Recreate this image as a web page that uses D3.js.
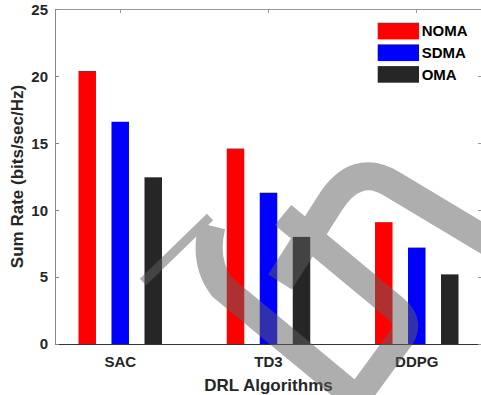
<!DOCTYPE html>
<html>
<head>
<meta charset="utf-8">
<script src="https://cdn.jsdelivr.net/npm/d3@7/dist/d3.min.js"></script>
<style>
  html, body { margin: 0; padding: 0; background: #fff; }
  svg { display: block; font-family: "Liberation Sans", Arial, sans-serif; }
</style>
</head>
<body>
<div id="chart"></div>
<script>
// data
const categories = ['SAC', 'TD3', 'DDPG'];
const seriesNames = ['NOMA', 'SDMA', 'OMA'];
const noma = [20.4, 14.6, 9.1];
const sdma = [16.6, 11.3, 7.2];
const oma = [12.45, 8.0, 5.2];
const yTicks = [0, 5, 10, 15, 20, 25];
const seriesColors = ['#ff0000', '#0000ff', '#262626'];

const width = 481, height = 395;
const margin = { top: 9.3, right: -1, bottom: 51, left: 55 };
const textColor = '#262626';

const svg = d3.select('#chart').append('svg')
  .attr('width', width)
  .attr('height', height);

const x0 = d3.scalePoint()
  .domain(categories)
  .range([margin.left, width - margin.right])
  .padding(0.44);

const x1 = d3.scaleBand()
  .domain(seriesNames)
  .range([-57.25, 57.25])
  .padding(0.47);

const y = d3.scaleLinear()
  .domain([0, 25])
  .range([height - margin.bottom, margin.top]);

const values = { NOMA: noma, SDMA: sdma, OMA: oma };
const rows = [];
seriesNames.forEach((s, si) => {
  categories.forEach((c, ci) => rows.push({ cat: c, series: s, value: values[s][ci], color: seriesColors[si] }));
});

const x0r = width - margin.right;
const yb = y(0), yt = y(25);

// bars
svg.append('g').selectAll('rect')
  .data(rows)
  .join('rect')
  .attr('x', d => x0(d.cat) + x1(d.series))
  .attr('width', x1.bandwidth())
  .attr('y', d => y(d.value))
  .attr('height', d => yb - y(d.value))
  .attr('fill', d => d.color);

// box lines (matlab style)
const box = svg.append('g').attr('fill', 'none').attr('shape-rendering', 'crispEdges');
box.append('line').attr('x1', margin.left).attr('x2', x0r).attr('y1', yt).attr('y2', yt).attr('stroke', '#999');
box.append('line').attr('x1', margin.left).attr('x2', margin.left).attr('y1', yt).attr('y2', yb).attr('stroke', '#888');
box.append('line').attr('x1', x0r).attr('x2', x0r).attr('y1', yt).attr('y2', yb).attr('stroke', '#999');
box.append('line').attr('x1', margin.left).attr('x2', x0r).attr('y1', yb).attr('y2', yb).attr('stroke', '#333');

// inward ticks
box.selectAll('.ytl').data(yTicks).join('line')
  .attr('x1', margin.left).attr('x2', margin.left + 4)
  .attr('y1', d => y(d)).attr('y2', d => y(d)).attr('stroke', '#888');
box.selectAll('.ytr').data(yTicks).join('line')
  .attr('x1', x0r - 4).attr('x2', x0r)
  .attr('y1', d => y(d)).attr('y2', d => y(d)).attr('stroke', '#999');
box.selectAll('.xtt').data(categories).join('line')
  .attr('x1', d => x0(d)).attr('x2', d => x0(d))
  .attr('y1', yt).attr('y2', yt + 4).attr('stroke', '#999');

// y tick labels
svg.append('g').selectAll('text')
  .data(yTicks)
  .join('text')
  .attr('x', margin.left - 7)
  .attr('y', d => y(d))
  .attr('dy', '0.36em')
  .attr('text-anchor', 'end')
  .attr('fill', textColor)
  .style('font-size', '15px')
  .style('font-weight', 'bold')
  .text(d => d);

// x tick labels
svg.append('g').selectAll('text')
  .data(categories)
  .join('text')
  .attr('x', d => x0(d))
  .attr('y', 366.5)
  .attr('text-anchor', 'middle')
  .attr('fill', textColor)
  .style('font-size', '15px')
  .style('font-weight', 'bold')
  .text(d => d);

// axis titles
svg.append('text')
  .attr('x', 268.5)
  .attr('y', 390.5)
  .attr('text-anchor', 'middle')
  .attr('fill', textColor)
  .style('font-size', '17px')
  .style('font-weight', 'bold')
  .text('DRL Algorithms');

svg.append('text')
  .attr('transform', 'translate(22.5,176.5) rotate(-90)')
  .attr('text-anchor', 'middle')
  .attr('fill', textColor)
  .style('font-size', '17px')
  .style('font-weight', 'bold')
  .text('Sum Rate (bits/sec/Hz)');

// legend
const legend = svg.append('g').attr('transform', 'translate(377.7,22.7)');
const li = legend.selectAll('g')
  .data(seriesNames)
  .join('g')
  .attr('transform', (d, i) => `translate(0,${i * 21.7})`);
li.append('rect')
  .attr('width', 41.3)
  .attr('height', 16.6)
  .attr('fill', (d, i) => seriesColors[i]);
li.append('text')
  .attr('x', 44)
  .attr('y', 8.3)
  .attr('dy', '0.36em')
  .attr('fill', '#000')
  .style('font-size', '15px')
  .style('font-weight', 'bold')
  .text(d => d);

// watermark overlay (rough shape of the stamp on the source image)
const wm = svg.append('g')
  .attr('opacity', 0.5)
  .attr('fill', 'none')
  .attr('stroke', '#606060')
  .attr('stroke-linecap', 'butt');
wm.append('path').attr('d', 'M143,282 L210,217').attr('stroke-width', 9);
wm.append('path').attr('d', 'M212,226 Q203,262 222,287 L368,408').attr('stroke-width', 27);
wm.append('path').attr('d', 'M280,282 L330,203 Q356,162 392,184 L492,244').attr('stroke-width', 28);
wm.append('path').attr('d', 'M283,215 L395,308 Q414,324 398,342 L360,394').attr('stroke-width', 26);
</script>
</body>
</html>
